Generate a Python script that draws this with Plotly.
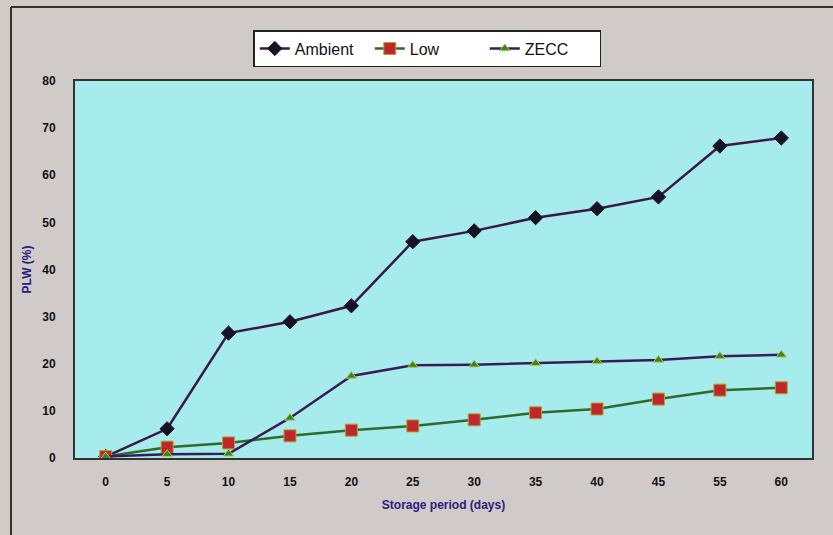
import plotly.graph_objects as go

days = ["0", "5", "10", "15", "20", "25", "30", "35", "40", "45", "55", "60"]
ambient = [0.3, 6.2, 26.5, 28.9, 32.3, 45.9, 48.2, 51.0, 52.9, 55.4, 66.2, 67.9]
low = [0.3, 2.3, 3.2, 4.7, 5.9, 6.8, 8.1, 9.6, 10.4, 12.5, 14.4, 14.9]
zecc = [0.3, 0.8, 0.9, 8.5, 17.4, 19.7, 19.8, 20.1, 20.5, 20.8, 21.6, 21.9]
y_ticks = [0, 10, 20, 30, 40, 50, 60, 70, 80]

fig = go.Figure()
fig.add_trace(go.Scatter(
    x=days, y=ambient, name="Ambient", mode="lines+markers",
    line=dict(color="#3a1846", width=2.5),
    marker=dict(symbol="diamond", size=11, color="#141422",
                line=dict(color="#2a1030", width=1)),
))
fig.add_trace(go.Scatter(
    x=days, y=low, name="Low", mode="lines+markers",
    line=dict(color="#2f6a2a", width=2.5),
    marker=dict(symbol="square", size=12, color="#c0272d",
                line=dict(color="#b8a030", width=1)),
))
fig.add_trace(go.Scatter(
    x=days, y=zecc, name="ZECC", mode="lines+markers",
    line=dict(color="#3a1a5a", width=2.5),
    marker=dict(symbol="triangle-up", size=9, color="#2e8a2e",
                line=dict(color="#c8c040", width=1)),
))

fig.update_layout(
    width=833, height=535,
    margin=dict(l=75, r=21, t=81, b=77),
    paper_bgcolor="#d0cbc8",
    plot_bgcolor="#a6eced",
    font=dict(family="Arial, Liberation Sans, sans-serif", size=12, color="#111"),
    showlegend=True,
    legend=dict(
        orientation="h", x=0.478, y=1.135, xanchor="center", yanchor="top",
        bgcolor="#ffffff", bordercolor="#222", borderwidth=1.5,
        font=dict(size=16, color="#111"), entrywidth=70, entrywidthmode="pixels",
        traceorder="normal",
    ),
    xaxis=dict(
        type="category", categoryorder="array", categoryarray=days,
        range=[-0.5, len(days) - 0.5], autorange=False,
        showgrid=False, zeroline=False, showline=True, linecolor="#333", linewidth=2,
        mirror=True, ticks="",
        tickfont=dict(size=12, color="#111", weight="bold"),
        ticklabelstandoff=12,
        title=dict(text="Storage period (days)", font=dict(size=12, color="#2a2080", weight="bold"), standoff=12),
    ),
    yaxis=dict(
        range=[0, 80], tickvals=y_ticks, showgrid=False, zeroline=False,
        showline=True, linecolor="#333", linewidth=2, mirror=True, ticks="",
        tickfont=dict(size=12, color="#111", weight="bold"),
        ticklabelstandoff=15,
        title=dict(text="PLW (%)", font=dict(size=12, color="#2a2080", weight="bold"), standoff=8),
    ),
    shapes=[
        dict(type="line", xref="paper", yref="paper",
             x0=(11 - 75) / 737, x1=(11 - 75) / 737, y0=(458 - 7) / 377, y1=(458 - 535) / 377,
             line=dict(color="#3a3020", width=2)),
        dict(type="line", xref="paper", yref="paper",
             x0=(11 - 75) / 737, x1=(833 - 75) / 737, y0=(458 - 7) / 377, y1=(458 - 7) / 377,
             line=dict(color="#3a3020", width=2)),
    ],
)

fig.write_html("out.html", config={"displayModeBar": False})

with open("out.html", "r", encoding="utf-8") as f:
    html = f.read()
html = html.replace("<body>", '<body style="margin:0;padding:0;">', 1)
with open("out.html", "w", encoding="utf-8") as f:
    f.write(html)
